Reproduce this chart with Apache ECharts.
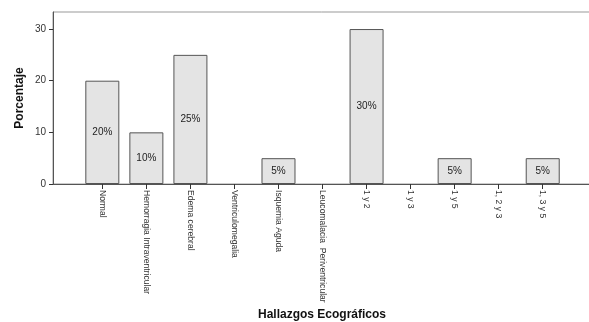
<!DOCTYPE html>
<html>
<head>
<meta charset="utf-8">
<script src="https://cdn.jsdelivr.net/npm/echarts@6/dist/echarts.min.js"></script>
<style>
  html, body { margin: 0; padding: 0; background: #fff; }
  #chart { width: 589px; height: 322px; }
</style>
</head>
<body>
<div id="chart"></div>
<script>
// Hallazgos ecográficos: porcentaje de casos por categoría
const categories = [
  'Normal',
  'Hemorragia Intraventricular',
  'Edema cerebral',
  'Ventriculomegalia',
  'Isquemia Aguda',
  'Leucomalacia  Periventricular',
  '1 y 2',
  '1 y 3',
  '1 y 5',
  '1, 2 y 3',
  '1, 3 y 5'
];
const percentages = [20, 10, 25, 0, 5, 0, 30, 0, 5, 0, 5];
const yTicks = [0, 10, 20, 30];

const chart = echarts.init(document.getElementById('chart'), null, { renderer: 'canvas' });

const idx = categories.map((_, i) => i);
const fontFamily = 'Liberation Sans, Arial, sans-serif';

chart.setOption({
  animation: false,
  grid: {
    left: 53, right: -2, top: 12, bottom: 138,
    outerBoundsMode: 'none',
    containLabel: false,
    show: true, borderColor: '#999', borderWidth: 1, backgroundColor: 'transparent'
  },
  xAxis: {
    type: 'value',
    min: -1.12,
    max: 11.096,
    name: 'Hallazgos Ecográficos',
    nameLocation: 'middle',
    nameGap: 125,
    nameMoveOverlap: false,
    nameTextStyle: { fontFamily, fontWeight: 'bold', fontSize: 12, color: '#111' },
    splitLine: { show: false },
    axisLine: { show: true, onZero: false, lineStyle: { color: '#555', width: 1 } },
    axisTick: { show: true, length: 5, customValues: idx, lineStyle: { color: '#333' } },
    axisLabel: {
      customValues: idx,
      rotate: -90,
      margin: 6,
      fontFamily, fontSize: 8.6, color: '#333',
      formatter: v => categories[Math.round(v)] ?? ''
    }
  },
  yAxis: {
    type: 'value',
    min: 0,
    max: 33.3,
    name: 'Porcentaje',
    nameLocation: 'middle',
    nameGap: 27,
    nameMoveOverlap: false,
    nameTextStyle: { fontFamily, fontWeight: 'bold', fontSize: 12, color: '#111' },
    splitLine: { show: false },
    axisLine: { show: true, onZero: false, lineStyle: { color: '#555', width: 1 } },
    axisTick: { show: true, length: 4, customValues: yTicks, lineStyle: { color: '#333' } },
    axisLabel: {
      customValues: yTicks,
      margin: 7,
      fontFamily, fontSize: 10, color: '#333'
    }
  },
  series: [{
    type: 'bar',
    barWidth: 34,
    data: percentages.map((v, i) => ({
      value: [i, v],
      itemStyle: v > 0 ? undefined : { borderWidth: 0 }
    })),
    itemStyle: { color: '#e4e4e4', borderColor: '#555', borderWidth: 1 },
    label: {
      show: true,
      position: 'inside',
      fontFamily, fontSize: 10, color: '#222',
      formatter: p => p.value[1] > 0 ? p.value[1] + '%' : ''
    }
  }]
});
</script>
</body>
</html>
